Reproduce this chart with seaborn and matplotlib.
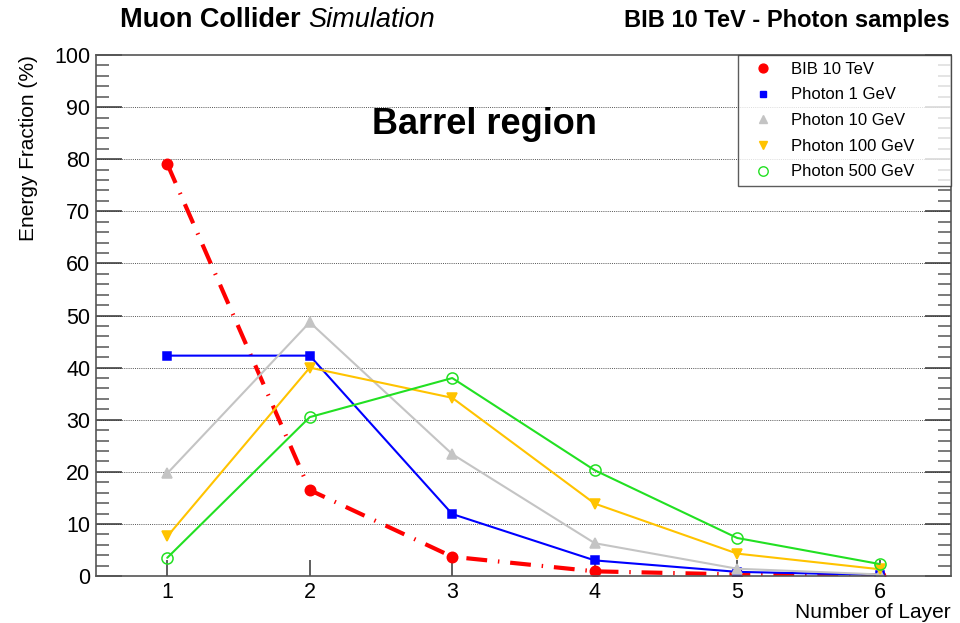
import matplotlib
matplotlib.use("Agg")
import matplotlib.pyplot as plt
from matplotlib.lines import Line2D
from matplotlib.ticker import MultipleLocator
import seaborn as sns
import pandas as pd

# Energy fraction deposited per calorimeter layer (barrel region)
layers = [1, 2, 3, 4, 5, 6]
bib_10tev = [79.1, 16.5, 3.7, 0.9, 0.3, 0.1]
photon_1gev = [42.3, 42.3, 11.9, 3.0, 0.8, 0.2]
photon_10gev = [19.7, 48.7, 23.4, 6.3, 1.4, 0.3]
photon_100gev = [7.6, 40.0, 34.2, 13.9, 4.3, 1.3]
photon_500gev = [3.5, 30.5, 38.0, 20.3, 7.3, 2.3]

labels = ["BIB 10 TeV", "Photon 1 GeV", "Photon 10 GeV", "Photon 100 GeV", "Photon 500 GeV"]
series = [bib_10tev, photon_1gev, photon_10gev, photon_100gev, photon_500gev]

colors = ["#ff0000", "#0000ff", "#c4c4c4", "#ffc300", "#22e022"]
markers = ["o", "s", "^", "v", "o"]
msizes = [7.5, 5.5, 7, 7, 8]
filled = [True, True, True, True, False]
lwidths = [3.0, 1.5, 1.5, 1.5, 1.5]

sns.set_theme(style="white")
plt.rcParams["font.family"] = ["Liberation Sans", "DejaVu Sans"]
plt.rcParams["text.color"] = "black"
plt.rcParams["axes.labelcolor"] = "black"
plt.rcParams["xtick.color"] = "black"
plt.rcParams["ytick.color"] = "black"

fig = plt.figure(figsize=(9.6, 6.23), dpi=100)
ax = fig.add_axes([0.1, 0.0754, 0.8906, 0.8363])

df = pd.DataFrame({"layer": layers})
for lab, vals, c, m, ms, fill, lw in zip(labels, series, colors, markers, msizes, filled, lwidths):
    df[lab] = vals
    kws = dict(color=c, marker=m, markersize=ms, linewidth=lw,
               markeredgecolor=c, markeredgewidth=1.1,
               markerfacecolor=c if fill else "none")
    if lab == "BIB 10 TeV":
        kws["linestyle"] = (0, (5, 2.6, 0.35, 2.6))
    sns.lineplot(data=df, x="layer", y=lab, ax=ax, legend=False, **kws)

ax.set_xlim(0.5, 6.5)
ax.set_ylim(0, 100)
ax.xaxis.set_major_locator(MultipleLocator(1))
ax.yaxis.set_major_locator(MultipleLocator(10))
ax.yaxis.set_minor_locator(MultipleLocator(2))

ax.grid(False)
for yv in range(10, 100, 10):
    ax.axhline(yv, color="#555555", linestyle=(0, (1, 1.2)), linewidth=0.7, zorder=0)

for sp in ax.spines.values():
    sp.set_color("#555555")
    sp.set_linewidth(1.2)

ax.tick_params(axis="y", which="major", direction="in", length=18.5, width=1.1,
               color="#333333", left=True, right=True, labelsize=15.5, pad=4,
               labelcolor="black")
ax.tick_params(axis="y", which="minor", direction="in", length=9.3, width=1.1,
               color="#555555", left=True, right=True)
ax.tick_params(axis="x", which="major", direction="in", length=11.5, width=1.1,
               color="#333333", bottom=True, top=False, labelsize=15.5, pad=4,
               labelcolor="black")
ax.tick_params(axis="x", which="minor", bottom=False, top=False)

ax.set_xlabel("Number of Layer", fontsize=15, loc="right", labelpad=0, color="black")
ax.set_ylabel("Energy Fraction (%)", fontsize=15, loc="top", labelpad=12, color="black")

# Legend with markers only
handles = [Line2D([], [], linestyle="None", marker=m, color=c, markersize=ms * 0.85,
                  markeredgecolor=c, markerfacecolor=c if fill else "none", markeredgewidth=1.0)
           for m, c, ms, fill in zip(markers, colors, msizes, filled)]
leg = ax.legend(handles, labels, loc="upper left", bbox_to_anchor=(0.751, 0.0, 0.249, 1.0),
                mode="expand", borderaxespad=0, fontsize=12, frameon=True, fancybox=False,
                edgecolor="#333333", handlelength=2.2, handletextpad=0.55,
                labelspacing=0.64, borderpad=0.4)
leg.get_frame().set_linewidth(1.0)
for t in leg.get_texts():
    t.set_color("black")

ax.text(0.4545, 0.866, "Barrel region", transform=ax.transAxes, ha="center", va="center",
        fontsize=26, fontweight="bold", color="black")

# Header texts
fig.canvas.draw()
renderer = fig.canvas.get_renderer()
t1 = fig.text(120 / 960, 1 - 20 / 623, "Muon Collider ", fontsize=19.5, fontweight="bold",
              ha="left", va="center", color="black")
bb = t1.get_window_extent(renderer=renderer)
fig.text(bb.x1 / fig.bbox.width, 1 - 20 / 623, "Simulation", fontsize=19.5, style="italic",
         ha="left", va="center", color="black")
fig.text(950 / 960, 1 - 20 / 623, "BIB 10 TeV - Photon samples", fontsize=17, fontweight="bold",
         ha="right", va="center", color="black")

fig.savefig("out.png", dpi=100)
